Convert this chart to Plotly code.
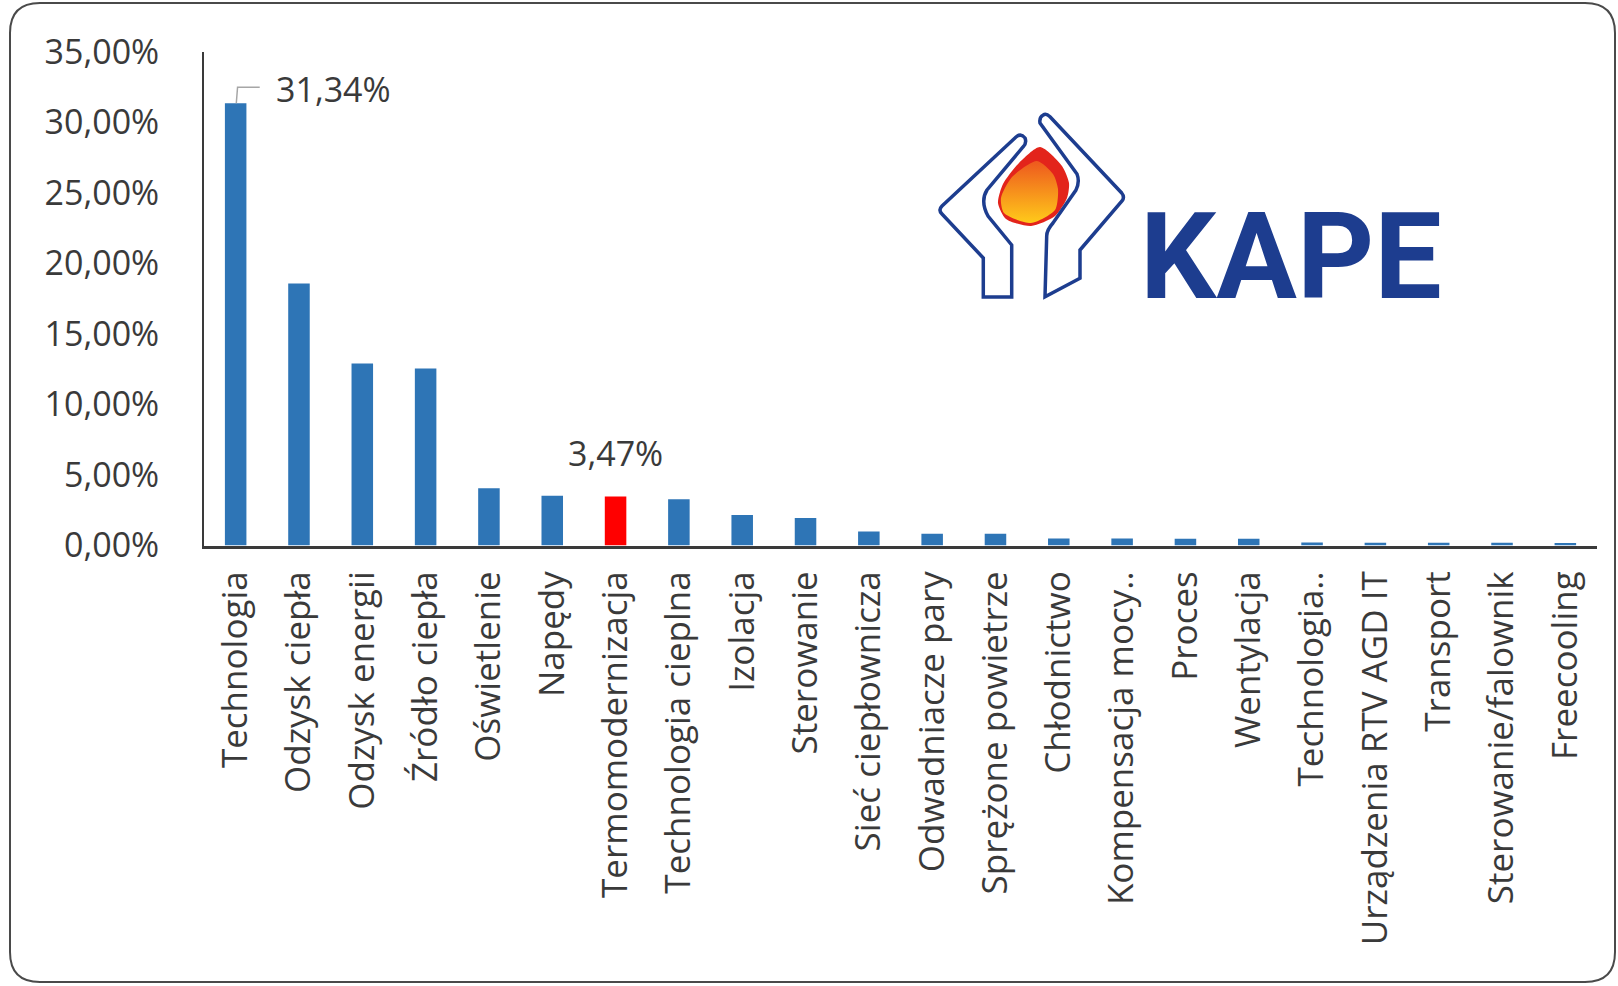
import plotly.graph_objects as go

# ---------------- data ----------------
categories = [
    "Technologia", "Odzysk ciepła", "Odzysk energii", "Źródło ciepła", "Oświetlenie",
    "Napędy", "Termomodernizacja", "Technologia cieplna", "Izolacja", "Sterowanie",
    "Sieć ciepłownicza", "Odwadniacze pary", "Sprężone powietrze", "Chłodnictwo",
    "Kompensacja mocy..", "Proces", "Wentylacja", "Technologia..",
    "Urządzenia RTV AGD IT", "Transport", "Sterowanie/falownik", "Freecooling",
]
values = [
    31.34, 18.56, 12.90, 12.55, 4.06,
    3.52, 3.47, 3.28, 2.17, 1.94,
    0.99, 0.83, 0.83, 0.50,
    0.50, 0.48, 0.48, 0.22,
    0.20, 0.20, 0.20, 0.18,
]
highlight = "Termomodernizacja"
labelled = ["Technologia", "Termomodernizacja"]
y_ticks = [0, 5, 10, 15, 20, 25, 30, 35]
y_tick_labels = ["0,00%", "5,00%", "10,00%", "15,00%", "20,00%", "25,00%", "30,00%", "35,00%"]

# ---------------- style ----------------
W, H = 1618, 986
BLUE = "#2E75B6"
RED = "#FF0000"
TXT = "#3a3a3a"
LOGO_BLUE = "#1D3D8F"
FONT = "Open Sans"

X0, X1 = 204, 1597      # plot area pixels
Y_TOP, Y_BOT = 51.6, 545.5

colors = [RED if c == highlight else BLUE for c in categories]

fig = go.Figure()
fig.add_trace(go.Bar(
    x=categories, y=values, marker=dict(color=colors, line=dict(width=0)),
    width=0.34, showlegend=False, xaxis="x", yaxis="y",
))

# ---------------- logo (decoration, in pixel coords on overlay axes) ----------------
flame_outer_x = [1040, 1062, 1069, 1067, 1055, 1031, 1006, 998, 1003, 1019, 1040]
flame_outer_y = [147, 166, 183, 198, 216, 226, 219, 203, 184, 163, 147]
flame_inner_x = [1037, 1053, 1058, 1055, 1031, 1004, 1001, 1012, 1037]
flame_inner_y = [161, 174, 189, 210, 223, 213, 198, 177, 161]

fig.add_trace(go.Scatter(
    x=flame_outer_x, y=flame_outer_y, mode="lines", line=dict(width=0, shape="spline", smoothing=0.7),
    fill="toself", fillcolor="#E3241B", hoverinfo="skip", showlegend=False, xaxis="x2", yaxis="y2",
))
fig.add_trace(go.Scatter(
    x=flame_inner_x, y=flame_inner_y, mode="lines", line=dict(width=0, shape="spline", smoothing=0.7),
    fill="toself",
    fillgradient=dict(type="vertical", colorscale=[[0, "#FFC81A"], [1, "#EE5A1E"]], start=222, stop=162),
    hoverinfo="skip", showlegend=False, xaxis="x2", yaxis="y2",
))

left_hand = ("M 983.3,297 L 983.3,258 L 942,214 Q 938,210 942,206 L 1016,137 "
             "Q 1021,133 1025,138 Q 1027,143 1023,147 L 987,190 Q 980,201 988,216 "
             "L 1011.7,245 L 1011.7,297 Z")
right_hand = ("M 1043.3,115 Q 1039,117 1040,123 L 1077,174 Q 1080,182 1076,190 "
              "L 1053,223 Q 1046.7,230 1046.7,236 L 1045,296.7 L 1080,278.3 L 1080,250 "
              "L 1122,201 Q 1125,197 1121.7,193 L 1050,116.7 Q 1046,113 1043.3,115 Z")

shapes = [
    # rounded outer border
    dict(type="path", xref="x2", yref="y2",
         path="M 40,3 L 1585,3 Q 1615,3 1615,33 L 1615,952 Q 1615,982 1585,982 "
              "L 40,982 Q 10,982 10,952 L 10,33 Q 10,3 40,3 Z",
         line=dict(color="#4a4a4a", width=2), fillcolor="rgba(0,0,0,0)", layer="above"),
    dict(type="path", xref="x2", yref="y2", path=left_hand,
         line=dict(color=LOGO_BLUE, width=3.5), fillcolor="rgba(0,0,0,0)", layer="above"),
    dict(type="path", xref="x2", yref="y2", path=right_hand,
         line=dict(color=LOGO_BLUE, width=3.5), fillcolor="rgba(0,0,0,0)", layer="above"),
]

# leader line for the first data label (category index 0)
i0 = categories.index(labelled[0])
v0 = values[i0]
shapes.append(dict(
    type="path", xref="x", yref="y",
    path=f"M {i0 + 0.01},{v0} L {i0 + 0.03},{v0 + 1.13} L {i0 + 0.38},{v0 + 1.13}",
    line=dict(color="#A6A6A6", width=1.5), layer="above",
))

def fmt(v):
    return f"{v:.2f}%".replace(".", ",")

annotations = [
    dict(x=categories[i0], y=v0, xref="x", yref="y", text=fmt(v0), showarrow=False,
         xanchor="left", yanchor="middle", xshift=38, yshift=14,
         font=dict(family=FONT, size=34, color=TXT)),
]
i1 = categories.index(labelled[1])
annotations.append(dict(
    x=categories[i1], y=values[i1], xref="x", yref="y", text=fmt(values[i1]), showarrow=False,
    xanchor="center", yanchor="middle", yshift=44,
    font=dict(family=FONT, size=34, color=TXT)))
annotations.append(dict(
    x=1138, y=257, xref="x2", yref="y2", text="<b>KAPE</b>", showarrow=False,
    xanchor="left", yanchor="middle",
    font=dict(family="Roboto", size=120, color=LOGO_BLUE)))

fig.update_layout(
    width=W, height=H,
    margin=dict(l=0, r=0, t=0, b=0),
    paper_bgcolor="white", plot_bgcolor="rgba(0,0,0,0)",
    font=dict(family=FONT, color=TXT),
    bargap=0.66,
    xaxis=dict(
        domain=[X0 / W, X1 / W], type="category", range=[-0.5, len(categories) - 0.5],
        showline=True, linecolor="#3a3a3a", linewidth=2.5, ticks="", showgrid=False,
        tickangle=-90, tickfont=dict(family=FONT, size=35, color=TXT),
        ticklabelstandoff=9, fixedrange=True, automargin=False,
    ),
    yaxis=dict(
        domain=[1 - Y_BOT / H, 1 - Y_TOP / H], range=[0, 35],
        tickmode="array", tickvals=y_ticks, ticktext=y_tick_labels,
        showline=True, linecolor="#3a3a3a", linewidth=2, ticks="", showgrid=False,
        zeroline=False, tickfont=dict(family=FONT, size=34, color=TXT),
        ticklabelstandoff=36, fixedrange=True, automargin=False,
    ),
    xaxis2=dict(domain=[0, 1], range=[0, W], visible=False, anchor="y2", fixedrange=True),
    yaxis2=dict(domain=[0, 1], range=[H, 0], visible=False, anchor="x2", fixedrange=True),
    shapes=shapes,
    annotations=annotations,
)

fig.write_html(
    "out.html",
    config={"displayModeBar": False},
    post_script="document.body.style.margin='0';document.body.style.overflow='hidden';",
)
